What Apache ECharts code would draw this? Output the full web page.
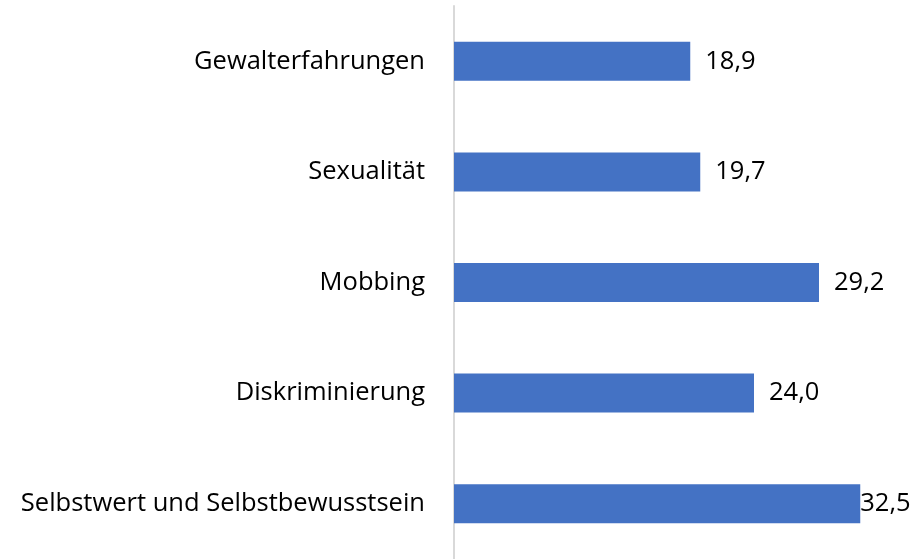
<!DOCTYPE html>
<html>
<head>
<meta charset="utf-8">
<script src="https://cdn.jsdelivr.net/npm/echarts@6/dist/echarts.min.js"></script>
<style>
  html, body { margin: 0; padding: 0; background: #fff; }
  #chart { width: 920px; height: 559px; }
</style>
</head>
<body>
<div id="chart"></div>
<script>
const categories = ['Gewalterfahrungen', 'Sexualität', 'Mobbing', 'Diskriminierung', 'Selbstwert und Selbstbewusstsein']
const values = [18.9, 19.7, 29.2, 24.0, 32.5]
// last label sits tight against the bar end like in the source
const labelGap = [15, 15, 15, 15, 0]

const font = '"Open Sans", "Noto Sans", sans-serif'

let chart = echarts.init(document.getElementById('chart'))
chart.setOption({
    animation: false,
    grid: {
        left: 454,
        right: 16,
        top: 6,
        bottom: -2
    },
    xAxis: {
        type: 'value',
        min: 0,
        max: 36,
        show: false
    },
    yAxis: {
        type: 'category',
        inverse: true,
        data: categories,
        axisLine: { lineStyle: { color: '#d9d9d9', width: 2 } },
        axisTick: { show: false },
        axisLabel: {
            margin: 29,
            color: '#000',
            fontFamily: font,
            fontSize: 25.5
        }
    },
    series: [
        {
            type: 'bar',
            barWidth: 39,
            itemStyle: { color: '#4472c4' },
            data: values.map((v, i) => ({
                value: v,
                label: { distance: labelGap[i] }
            })),
            label: {
                show: true,
                position: 'right',
                color: '#000',
                fontFamily: font,
                fontSize: 25.5,
                formatter: (p) => p.value.toFixed(1).replace('.', ',')
            }
        }
    ]
})
</script>
</body>
</html>
